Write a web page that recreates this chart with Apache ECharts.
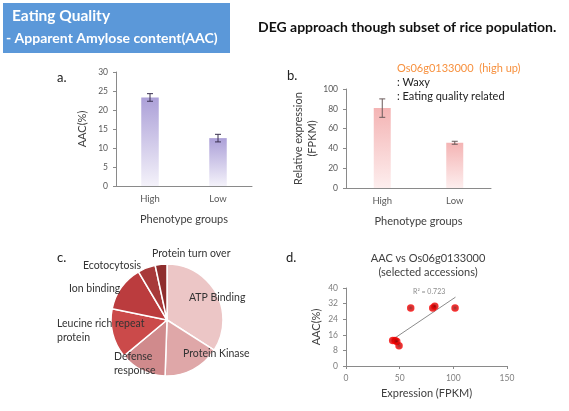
<!DOCTYPE html>
<html><head><meta charset="utf-8">
<script src="https://cdn.jsdelivr.net/npm/echarts@6/dist/echarts.min.js"></script>
<style>html,body{margin:0;padding:0;background:#fff}#c{width:569px;height:411px}</style>
</head><body><div id="c"></div>
<script>
// ---- data ----
const groups = ['High', 'Low'];
const aacMean = [23.3, 12.6];
const aacErr = [1.0, 1.0];
const exprMean = [80.7, 45.7];
const exprErr = [9.3, 1.5];
const pieNames = ['ATP Binding', 'Protein Kinase', 'Defense\nresponse', 'Leucine rich repeat\nprotein', 'Ion binding', 'Ecotocytosis', 'Protein turn over'];
const pieValues = [34.1, 16.5, 13.4, 14.3, 13.3, 5.1, 3.4];
const scatterX = [60.3, 80.8, 82.7, 101.6, 43.5, 45.7, 47.3, 49.4];
const scatterY = [29.8, 29.8, 30.7, 29.8, 13.1, 13.1, 12.6, 10.4];
const trendX = [43.5, 102.0];
const trendY = [13.6, 35.3];

// ---- styles ----
const FONT = 'Lato';
const pieColors = ['#ecc6c6', '#dfa7a8', '#d08a8c', '#cb4a4a', '#bb3c3e', '#a83a3a', '#8e2e2e'];
const pieLabelPos = [[189, 291], [183, 347], [114, 350], [57, 317], [69, 282], [83, 259], [152, 247]];

const axisLine = { lineStyle: { color: '#8a8a8a', width: 1 } };
const tickLbl = { color: '#595959', fontSize: 8.5, fontFamily: FONT };
const nameStyle = { color: '#404040', fontSize: 11, fontFamily: FONT };

function errSeries(xi, yi, means, errs, color) {
  return {
    type: 'custom', xAxisIndex: xi, yAxisIndex: yi, z: 5,
    data: means.map((m, i) => [i, m - errs[i], m + errs[i]]),
    renderItem: function (params, api) {
      const lo = api.coord([api.value(0), api.value(1)]);
      const hi = api.coord([api.value(0), api.value(2)]);
      const w = 3;
      const st = { stroke: color, lineWidth: 1 };
      return { type: 'group', children: [
        { type: 'line', shape: { x1: lo[0], y1: lo[1], x2: hi[0], y2: hi[1] }, style: st },
        { type: 'line', shape: { x1: lo[0] - w, y1: lo[1], x2: lo[0] + w, y2: lo[1] }, style: st },
        { type: 'line', shape: { x1: hi[0] - w, y1: hi[1], x2: hi[0] + w, y2: hi[1] }, style: st }
      ] };
    }
  };
}

const grad = (top, bottom) => new echarts.graphic.LinearGradient(0, 0, 0, 1, [
  { offset: 0, color: top }, { offset: 1, color: bottom }]);

const chart = echarts.init(document.getElementById('c'), null, { renderer: 'canvas' });
chart.setOption({
  backgroundColor: '#ffffff',
  animation: false,
  textStyle: { fontFamily: FONT },
  graphic: [
    { type: 'rect', shape: { x: 3, y: 3, width: 227, height: 50 }, style: { fill: '#5b98d9' } },
    { type: 'text', left: 12, top: 8, style: { text: 'Eating Quality', fill: '#ffffff', font: 'bold 15.5px ' + FONT } },
    { type: 'text', left: 6, top: 31, style: { text: '- Apparent Amylose content(AAC)', fill: '#ffffff', font: 'bold 14px ' + FONT } },
    { type: 'text', left: 258, top: 20, style: { text: 'DEG approach though subset of rice population.', fill: '#111111', font: 'bold 14px ' + FONT } },
    { type: 'text', left: 57, top: 71, style: { text: 'a.', fill: '#222', font: '13px ' + FONT } },
    { type: 'text', left: 287, top: 69, style: { text: 'b.', fill: '#222', font: '13px ' + FONT } },
    { type: 'text', left: 57, top: 251, style: { text: 'c.', fill: '#222', font: '13px ' + FONT } },
    { type: 'text', left: 286, top: 251, style: { text: 'd.', fill: '#222', font: '13px ' + FONT } },
    { type: 'text', left: 397, top: 63, style: { text: 'Os06g0133000  (high up)', fill: '#f7913f', font: '11px ' + FONT } },
    { type: 'text', left: 397, top: 77, style: { text: ': Waxy', fill: '#222', font: '11px ' + FONT } },
    { type: 'text', left: 397, top: 91, style: { text: ': Eating quality related', fill: '#222', font: '11px ' + FONT } },
    { type: 'text', left: 413, top: 288, style: { text: 'R² = 0.723', fill: '#8c8c8c', font: '7px ' + FONT } }
  ],
  title: [{
    text: 'AAC vs Os06g0133000\n(selected accessions)', left: 423, top: 246, textAlign: 'center',
    textStyle: { fontSize: 11, fontWeight: 'normal', color: '#404040', fontFamily: FONT, lineHeight: 14 }
  }],
  grid: [
    { left: 116, top: 72, width: 136, height: 114 },
    { left: 346, top: 89, width: 145, height: 99 },
    { left: 346, top: 288, width: 161, height: 78 }
  ],
  xAxis: [
    { gridIndex: 0, type: 'category', data: groups, axisLine, axisTick: { length: 3, lineStyle: { color: '#8a8a8a' } },
      axisLabel: { ...tickLbl, fontSize: 9.5, margin: 8 }, name: 'Phenotype groups', nameLocation: 'middle', nameGap: 28, nameTextStyle: nameStyle },
    { gridIndex: 1, type: 'category', data: groups, axisLine, axisTick: { length: 3, lineStyle: { color: '#8a8a8a' } },
      axisLabel: { ...tickLbl, fontSize: 9.5, margin: 8 }, name: 'Phenotype groups', nameLocation: 'middle', nameGap: 28, nameTextStyle: nameStyle },
    { gridIndex: 2, type: 'value', min: 0, max: 150, interval: 50, axisLine: { show: true, ...axisLine }, axisTick: { show: true, length: 3, lineStyle: { color: '#8a8a8a' } },
      splitLine: { show: false }, axisLabel: { ...tickLbl, color: '#7f7f7f' }, name: 'Expression (FPKM)', nameLocation: 'middle', nameGap: 22, nameTextStyle: nameStyle }
  ],
  yAxis: [
    { gridIndex: 0, type: 'value', min: 0, max: 30, interval: 5, axisLine: { show: true, ...axisLine }, axisTick: { show: true, length: 3, lineStyle: { color: '#8a8a8a' } },
      splitLine: { show: false }, axisLabel: tickLbl, name: 'AAC(%)', nameLocation: 'middle', nameGap: 28, nameTextStyle: nameStyle },
    { gridIndex: 1, type: 'value', min: 0, max: 100, interval: 20, axisLine: { show: true, ...axisLine }, axisTick: { show: true, length: 3, lineStyle: { color: '#8a8a8a' } },
      splitLine: { show: false }, axisLabel: tickLbl, name: 'Relative expression\n(FPKM)', nameLocation: 'middle', nameGap: 24, nameTextStyle: { ...nameStyle, lineHeight: 14 } },
    { gridIndex: 2, type: 'value', min: 0, max: 40, interval: 8, axisLine: { show: true, ...axisLine }, axisTick: { show: true, length: 3, lineStyle: { color: '#8a8a8a' } },
      splitLine: { show: false }, axisLabel: { ...tickLbl, color: '#7f7f7f' }, name: 'AAC(%)', nameLocation: 'middle', nameGap: 24, nameTextStyle: nameStyle }
  ],
  series: [
    { type: 'bar', xAxisIndex: 0, yAxisIndex: 0, data: aacMean, barWidth: 17.5,
      itemStyle: { color: grad('#aca0d8', '#f4f2fa') } },
    errSeries(0, 0, aacMean, aacErr, '#3a3050'),
    { type: 'bar', xAxisIndex: 1, yAxisIndex: 1, data: exprMean, barWidth: 17,
      itemStyle: { color: grad('#f4b4b4', '#fdeeee') } },
    errSeries(1, 1, exprMean, exprErr, '#6a5a5a'),
    { type: 'pie', center: [167, 320], radius: 56, startAngle: 90, clockwise: true,
      avoidLabelOverlap: false,
      itemStyle: { borderColor: '#ffffff', borderWidth: 1.5 },
      data: pieNames.map((n, i) => ({ name: n, value: pieValues[i], itemStyle: { color: pieColors[i] } })),
      label: { show: true, position: 'outside', formatter: '{b}', color: '#333', fontSize: 10.5, fontFamily: FONT, lineHeight: 14 },
      labelLine: { show: false },
      labelLayout: function (p) {
        const pos = pieLabelPos[p.dataIndex];
        return { x: pos[0], y: pos[1], align: 'left', verticalAlign: 'top' };
      }
    },
    { type: 'line', xAxisIndex: 2, yAxisIndex: 2, data: trendX.map((x, i) => [x, trendY[i]]), symbol: 'none',
      lineStyle: { color: '#8c8c8c', width: 1 }, z: 3 },
    { type: 'scatter', xAxisIndex: 2, yAxisIndex: 2, data: scatterX.map((x, i) => [x, scatterY[i]]), symbolSize: 7.5, z: 4,
      itemStyle: { color: { type: 'radial', x: 0.5, y: 0.5, r: 0.5, colorStops: [
        { offset: 0, color: '#7a0000' }, { offset: 0.4, color: '#c00000' }, { offset: 1, color: '#ff0000' }] } } }
  ]
});
</script></body></html>
